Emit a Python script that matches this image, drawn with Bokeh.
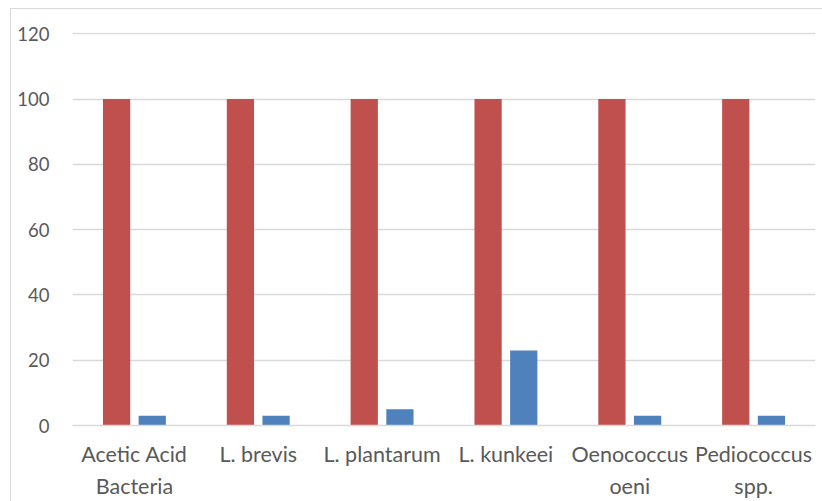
from bokeh.plotting import figure
from bokeh.models import FactorRange, Range1d, ColumnDataSource, FixedTicker
from bokeh.transform import dodge
from bokeh.embed import file_html
from bokeh.resources import INLINE

categories = ["Acetic Acid\nBacteria", "L. brevis", "L. plantarum", "L. kunkeei", "Oenococcus\noeni", "Pediococcus\nspp."]
red_values = [100, 100, 100, 100, 100, 100]
blue_values = [3, 3, 5, 23, 3, 3]
y_ticks = [0, 20, 40, 60, 80, 100, 120]

src = ColumnDataSource(dict(cat=categories, red=red_values, blue=blue_values))

FONT = "Lato"
TXT = "#595959"

p = figure(x_range=FactorRange(*categories, range_padding=0), y_range=Range1d(0, 120.4),
           width=812, height=493, output_backend="svg", toolbar_location=None,
           min_border_left=61, min_border_right=8, min_border_top=23, min_border_bottom=77,
           styles={"border-left": "1px solid #D9D9D9", "border-top": "1px solid #D9D9D9",
                   "margin-left": "10px", "margin-top": "8px"})
p.outline_line_color = None
p.background_fill_color = "white"
p.border_fill_color = "white"

p.vbar(x=dodge("cat", -0.144, range=p.x_range), top="red", width=0.22, source=src,
       fill_color="#C0504D", line_color=None)
p.vbar(x=dodge("cat", 0.144, range=p.x_range), top="blue", width=0.22, source=src,
       fill_color="#4F81BD", line_color=None)

p.xgrid.grid_line_color = None
p.ygrid.grid_line_color = "#D9D9D9"
p.ygrid.grid_line_width = 1.3
p.yaxis.ticker = FixedTicker(ticks=y_ticks)
p.yaxis.axis_line_color = None
p.yaxis.major_tick_line_color = None
p.yaxis.minor_tick_line_color = None
p.yaxis.major_label_standoff = 17
p.yaxis.major_label_text_font = FONT
p.yaxis.major_label_text_font_size = "18.5px"
p.yaxis.major_label_text_color = TXT

p.xaxis.axis_line_color = "#D9D9D9"
p.xaxis.axis_line_width = 1.3
p.xaxis.major_tick_line_color = None
p.xaxis.minor_tick_line_color = None
p.xaxis.major_label_standoff = 9
p.xaxis.major_label_text_font = FONT
p.xaxis.major_label_text_font_size = "21.5px"
p.xaxis.major_label_text_color = TXT
p.xaxis.major_label_text_line_height = 1.25

open("out.html", "w").write(file_html(p, INLINE))
